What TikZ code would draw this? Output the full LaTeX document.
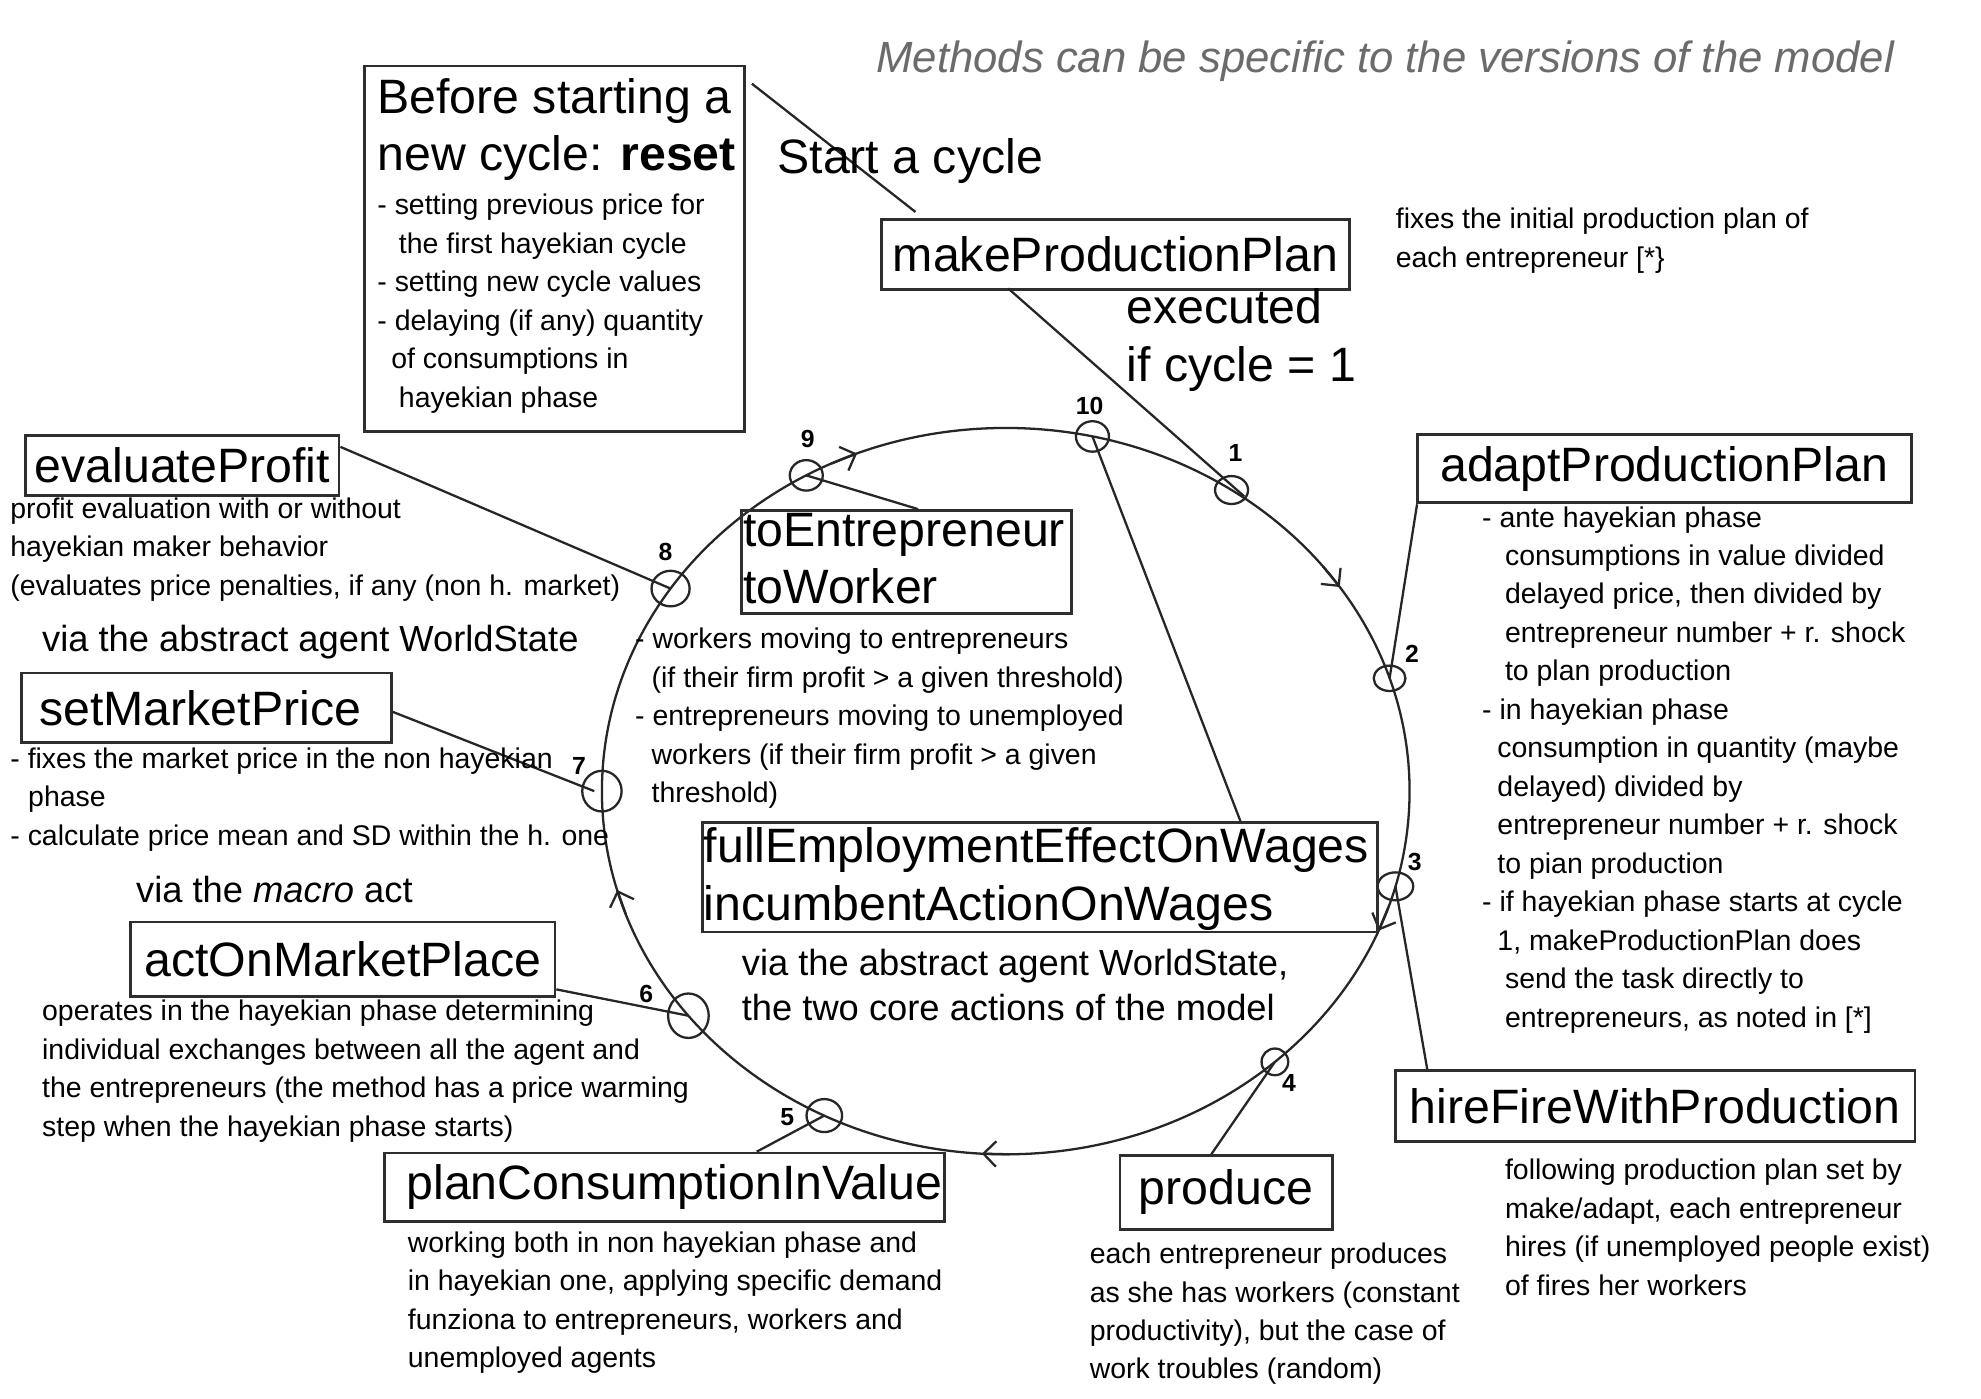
\documentclass[tikz,border=0pt]{standalone}
\usepackage{fontspec}
\setmainfont{Liberation Sans}
\usetikzlibrary{arrows.meta,shapes.geometric}
\newcommand\fbig{\fontsize{38}{45.5}\selectfont}
\newcommand\fmid{\fontsize{28.6}{36}\selectfont}
\newcommand\fsml{\fontsize{22.4}{30.3}\selectfont}
\newcommand\fnum{\fontsize{19.5}{21}\selectfont\bfseries}
\newcommand\fttl{\fontsize{34.4}{40}\selectfont\itshape}
\newcommand\tlines[1]{\begin{tabular}[t]{@{}l@{}}#1\end{tabular}}
\newcommand\ind[1]{\hspace*{#1pt}}
\begin{document}
\begin{tikzpicture}[x=1pt,y=-1pt,
  box/.style={draw=black!82, line width=2.2pt, rectangle, inner sep=0pt, font=\fbig},
  conn/.style={draw=black!85, line width=1.8pt},
  txt/.style={inner sep=0pt, anchor=base west, font=\fsml},
  mtxt/.style={inner sep=0pt, anchor=base west, font=\fmid},
  btxt/.style={inner sep=0pt, anchor=base west, font=\fbig},
  num/.style={inner sep=0pt, font=\fnum},
  stop/.style={draw=black!85, line width=1.8pt, ellipse, inner sep=0pt},
  cyc/.style={draw=black!85, line width=1.8pt},
  tip/.style={draw=black!85, line width=1.8pt, -{Straight Barb[length=10pt,width=20pt]}},
]
\useasboundingbox (0,0) rectangle (1560,1101);
\fill[white] (0,0) rectangle (1560,1101);

% main cycle
\draw[cyc] (792,623) ellipse [x radius=318pt, y radius=286pt];
\foreach \a in {248.4,325.8,22.6,93.4,164.2}
  \draw[tip] ({792+318*cos(\a-4)},{623+286*sin(\a-4)}) -- ({792+318*cos(\a)},{623+286*sin(\a)});

% stops on the cycle
\foreach \n/\a/\w/\h in {1/304/26/22, 2/341.9/25/20, 3/15.2/28/22, 4/48.2/21/21, 5/116.7/28/26,
  6/141.8/32/35, 7/180/31/32, 8/213.9/30/28, 9/240.4/26/24, 10/282.4/26/24}
  \node[stop, minimum width=\w pt, minimum height=\h pt] (c\n) at ({792+318*cos(\a)},{623+286*sin(\a)}) {};

% numbers
\node[num] (n1) at (973,357) {1};
\node[num] (n2) at (1112,515) {2};
\node[num] (n3) at (1114,679) {3};
\node[num] (n4) at (1015,853) {4};
\node[num] (n5) at (620,880) {5};
\node[num] (n6) at (509,783) {6};
\node[num] (n7) at (456,603) {7};
\node[num] (n8) at (524,435) {8};
\node[num] (n9) at (636,346) {9};
\node[num] (n10) at (858,320) {10};

% boxes
\node[box, minimum width=299pt, minimum height=288pt] (before) at (436.5,196) {};
\node[box, minimum width=369pt, minimum height=55pt] (mpp) at (878.5,200.5) {makeProductionPlan};
\node[box, minimum width=389pt, minimum height=54pt] (adapt) at (1310.5,369) {adaptProductionPlan};
\node[box, minimum width=247pt, minimum height=47pt] (evalp) at (143.5,366.5) {evaluateProfit};
\node[box, minimum width=291pt, minimum height=55pt] (setmp) at (162.5,557.5) {\makebox[263pt][l]{setMarketPrice}};
\node[box, minimum width=334pt, minimum height=59pt] (aomp) at (270,755.5) {actOnMarketPlace};
\node[box, minimum width=441pt, minimum height=54pt] (pciv) at (523.5,935) {\makebox[437pt][r]{planConsumptionInValue}};
\node[box, minimum width=167pt, minimum height=58pt] (produce) at (965.5,939) {produce};
\node[box, minimum width=409pt, minimum height=56pt] (hfwp) at (1303.5,871) {hireFireWithProduction};
\node[box, minimum width=260pt, minimum height=81pt] (toew) at (714,442.5) {};
\node[box, minimum width=532pt, minimum height=86pt] (fee) at (819,691) {};

% connectors
\draw[conn] ([xshift=5pt,yshift=-15pt]before.north east) -- ([xshift=28pt,yshift=5pt]mpp.north west);
\draw[conn] ([xshift=101pt,yshift=2pt]mpp.south west) -- ([xshift=10pt,yshift=-5pt]c1.center);
\draw[conn] ([xshift=1pt]adapt.south west) -- (c2.center);
\draw[conn] ([xshift=26pt]hfwp.north west) -- (c3.center);
\draw[conn] ([xshift=73pt]produce.north west) -- (c4.center);
\draw[conn] ([xshift=294pt]pciv.north west) -- (c5.center);
\draw[conn] ([yshift=7pt]aomp.south east) -- (c6.center);
\draw[conn] ([yshift=-3pt]setmp.east) -- ([xshift=-6pt]c7.center);
\draw[conn] ([yshift=-10pt]evalp.north east) -- (c8.center);
\draw[conn] ([xshift=140pt]toew.north west) -- (c9.center);
\draw[conn] ([xshift=425pt]fee.north west) -- (c10.center);

% texts
\node[inner sep=0pt, anchor=base west, font=\fttl, text=black!58] (title) at (690,57) {Methods can be specific to the versions of the model};
\node[btxt] (start) at (612,137) {Start a cycle};
\node[btxt] (beforet) at (297,89) {\tlines{Before starting a\\new cycle: \textbf{reset}}};
\node[txt] (befored) at (297,169) {\tlines{- setting previous price for\\ \ind{17}the first hayekian cycle\\- setting new cycle values\\- delaying (if any) quantity\\ \ind{11}of consumptions in\\ \ind{17}hayekian phase}};
\node[btxt] (exec) at (887,255) {\tlines{executed\\if cycle = 1}};
\node[txt] (mppd) at (1099,180) {\tlines{fixes the initial production plan of\\each entrepreneur [*\}}};
\node[txt] (adaptd) at (1167,415) {\tlines{- ante hayekian phase\\ \ind{18}consumptions in value divided\\ \ind{18}delayed price, then divided by\\ \ind{18}entrepreneur number + r. shock\\ \ind{18}to plan production\\- in hayekian phase\\ \ind{12}consumption in quantity (maybe\\ \ind{12}delayed) divided by\\ \ind{12}entrepreneur number + r. shock\\ \ind{12}to pian production\\- if hayekian phase starts at cycle\\ \ind{12}1, makeProductionPlan does\\ \ind{18}send the task directly to\\ \ind{18}entrepreneurs, as noted in [*]}};
\node[txt] (evalpd) at (8,408) {\tlines{profit evaluation with or without\\hayekian maker behavior\\(evaluates price penalties, if any (non h. market)}};
\node[mtxt] (ws1) at (33,513) {via the abstract agent WorldState};
\node[txt] (setmpd) at (8,605) {\tlines{- fixes the market price in the non hayekian\\ \ind{14}phase\\- calculate price mean and SD within the h. one}};
\node[mtxt] (macro) at (107,711) {via the \textit{macro} act};
\node[txt] (aompd) at (33,804) {\tlines{operates in the hayekian phase determining\\individual exchanges between all the agent and\\the entrepreneurs (the method has a price warming\\step when the hayekian phase starts)}};
\node[txt] (pcivd) at (321,986) {\tlines{working both in non hayekian phase and\\in hayekian one, applying specific demand\\funziona to entrepreneurs, workers and\\unemployed agents}};
\node[txt] (produced) at (858,995) {\tlines{each entrepreneur produces\\as she has workers (constant\\productivity), but the case of\\work troubles (random)}};
\node[txt] (hfwpd) at (1185,929) {\tlines{following production plan set by\\make/adapt, each entrepreneur\\hires (if unemployed people exist)\\of fires her workers}};
\node[btxt] (toewt) at (585,430) {\tlines{toEntrepreneur\\toWorker}};
\node[txt] (toewd) at (500,511) {\tlines{- workers moving to entrepreneurs\\ \ind{13}(if their firm profit > a given threshold)\\- entrepreneurs moving to unemployed\\ \ind{13}workers (if their firm profit > a given\\ \ind{13}threshold)}};
\node[btxt] (feet) at (554,679) {\tlines{fullEmploymentEffectOnWages\\incumbentActionOnWages}};
\node[mtxt] (ws2) at (584,768) {\tlines{via the abstract agent WorldState,\\the two core actions of the model}};
\end{tikzpicture}
\end{document}
